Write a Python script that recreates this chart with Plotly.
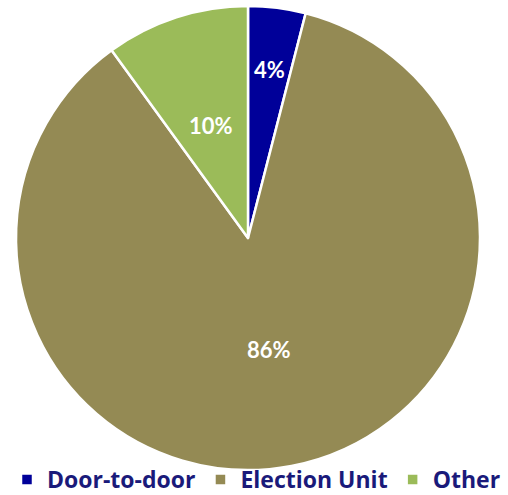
import math
import plotly.graph_objects as go

labels = ["Door-to-door", "Election Unit", "Other"]
values = [4, 86, 10]
colors = ["#000099", "#948A54", "#9BBB59"]

W, H = 508, 495
# pie placement in pixels: centre and radius
cx, cy, r = 248, 238, 232

fig = go.Figure(
    go.Pie(
        labels=labels,
        values=values,
        sort=False,
        direction="clockwise",
        rotation=0,
        marker=dict(colors=colors, line=dict(color="white", width=2.5)),
        textinfo="none",
        hoverinfo="label+percent",
        domain=dict(
            x=[(cx - r) / W, (cx + r) / W],
            y=[1 - (cy + r) / H, 1 - (cy - r) / H],
        ),
    )
)

# percentage labels placed along each slice's mid-angle
label_radius = [0.73, 0.49, 0.51]
total = sum(values)
start = 0.0
for v, rf in zip(values, label_radius):
    mid = (start + v / 2) / total * 2 * math.pi
    start += v
    px = cx + rf * r * math.sin(mid)
    py = cy - rf * r * math.cos(mid)
    fig.add_annotation(
        x=px / W,
        y=1 - py / H,
        xref="paper",
        yref="paper",
        text=f"{round(v / total * 100)}%",
        showarrow=False,
        font=dict(family="Lato", size=22, color="white", weight="bold"),
        xanchor="center",
        yanchor="middle",
    )

fig.update_layout(
    width=W,
    height=H,
    margin=dict(l=0, r=0, t=0, b=0, autoexpand=False),
    paper_bgcolor="white",
    plot_bgcolor="white",
    showlegend=True,
    legend=dict(
        orientation="h",
        x=7 / W,
        xanchor="left",
        y=-6 / H,
        yanchor="bottom",
        font=dict(family="Open Sans", size=23, color="#1A1A7A", weight="bold"),
        itemwidth=30,
        traceorder="normal",
        bgcolor="rgba(0,0,0,0)",
    ),
)

fig.write_html("out.html")
